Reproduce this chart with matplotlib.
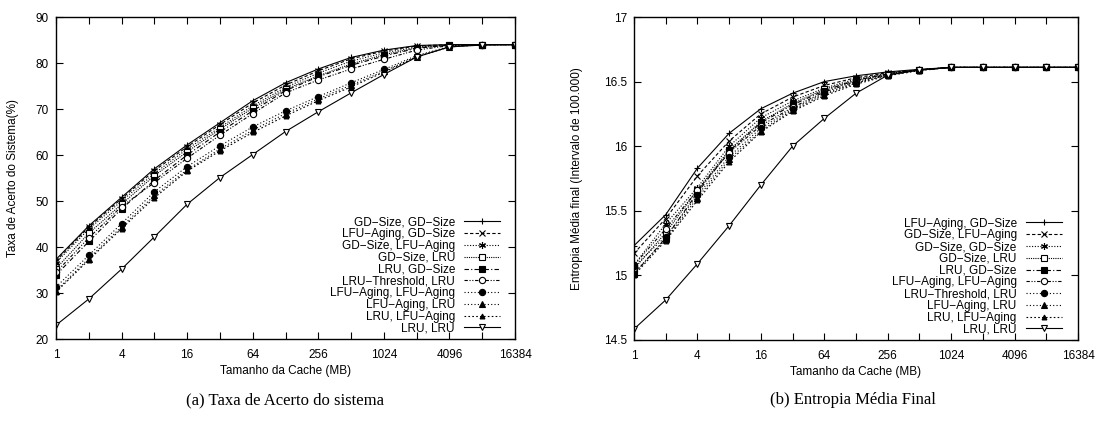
import matplotlib
matplotlib.use("Agg")
import matplotlib.pyplot as plt

# tamanho da cache (MB), potencias de 2
cache_mb = [1, 2, 4, 8, 16, 32, 64, 128, 256, 512, 1024, 2048, 4096, 8192, 16384]
tick_labels = ["1", "", "4", "", "16", "", "64", "", "256", "", "1024", "", "4096", "", "16384"]

# (a) taxa de acerto do sistema (%)
hit_labels = ["GD\u2212Size, GD\u2212Size", "LFU\u2212Aging, GD\u2212Size", "GD\u2212Size, LFU\u2212Aging",
              "GD\u2212Size, LRU", "LRU, GD\u2212Size", "LRU\u2212Threshold, LRU",
              "LFU\u2212Aging, LFU\u2212Aging", "LFU\u2212Aging, LRU", "LRU, LFU\u2212Aging", "LRU, LRU"]
hit_gds_gds = [37.3, 44.6, 50.8, 57.0, 62.2, 67.0, 71.8, 75.7, 78.7, 81.2, 82.8, 83.8, 84.0, 84.0, 84.0]
hit_lfu_gds = [37.0, 44.3, 50.5, 56.6, 61.8, 66.6, 71.3, 75.2, 78.3, 80.9, 82.6, 83.7, 84.0, 84.0, 84.0]
hit_gds_lfu = [36.6, 43.9, 50.0, 56.0, 61.3, 66.0, 70.7, 74.7, 77.8, 80.4, 82.2, 83.5, 83.9, 84.0, 84.0]
hit_gds_lru = [35.3, 43.0, 49.3, 55.5, 60.7, 65.6, 70.2, 74.3, 77.2, 79.8, 81.8, 83.3, 83.9, 84.0, 84.0]
hit_lru_gds = [33.9, 41.2, 48.3, 54.5, 60.0, 65.0, 69.6, 74.0, 77.0, 79.5, 81.5, 83.2, 83.9, 84.0, 84.0]
hit_thr_lru = [34.5, 42.0, 48.8, 54.0, 59.3, 64.3, 69.0, 73.5, 76.3, 78.7, 80.8, 82.8, 83.8, 84.0, 84.0]
hit_lfu_lfu = [31.3, 38.2, 45.1, 52.0, 57.5, 62.0, 66.1, 69.6, 72.7, 75.7, 78.6, 81.6, 83.6, 84.0, 84.0]
hit_lfu_lru = [30.5, 37.5, 44.4, 51.2, 56.8, 61.3, 65.4, 69.0, 72.2, 75.2, 78.2, 81.4, 83.5, 84.0, 84.0]
hit_lru_lfu = [30.2, 37.2, 44.0, 50.7, 56.5, 60.9, 64.9, 68.5, 71.8, 74.8, 78.0, 81.3, 83.5, 84.0, 84.0]
hit_lru_lru = [23.0, 28.7, 35.2, 42.2, 49.3, 55.1, 60.1, 65.1, 69.4, 73.5, 77.5, 81.3, 83.5, 83.9, 84.0]

# (b) entropia media final
ent_labels = ["LFU\u2212Aging, GD\u2212Size", "GD\u2212Size, LFU\u2212Aging", "GD\u2212Size, GD\u2212Size",
              "GD\u2212Size, LRU", "LRU, GD\u2212Size", "LFU\u2212Aging, LFU\u2212Aging",
              "LRU\u2212Threshold, LRU", "LFU\u2212Aging, LRU", "LRU, LFU\u2212Aging", "LRU, LRU"]
ent_lfu_gds = [15.23, 15.47, 15.83, 16.10, 16.29, 16.41, 16.50, 16.545, 16.575, 16.595, 16.61, 16.61, 16.61, 16.61, 16.61]
ent_gds_lfu = [15.17, 15.44, 15.77, 16.04, 16.25, 16.38, 16.47, 16.53, 16.57, 16.59, 16.61, 16.61, 16.61, 16.61, 16.61]
ent_gds_gds = [15.08, 15.40, 15.68, 16.00, 16.22, 16.35, 16.45, 16.52, 16.565, 16.59, 16.61, 16.61, 16.61, 16.61, 16.61]
ent_gds_lru = [15.05, 15.33, 15.66, 15.97, 16.19, 16.33, 16.44, 16.51, 16.56, 16.59, 16.61, 16.61, 16.61, 16.61, 16.61]
ent_lru_gds = [15.01, 15.29, 15.64, 15.96, 16.18, 16.32, 16.43, 16.51, 16.56, 16.59, 16.61, 16.61, 16.61, 16.61, 16.61]
ent_lfu_lfu = [15.08, 15.36, 15.66, 15.95, 16.16, 16.30, 16.42, 16.50, 16.555, 16.59, 16.61, 16.61, 16.61, 16.61, 16.61]
ent_thr_lru = [15.07, 15.30, 15.62, 15.92, 16.14, 16.29, 16.41, 16.49, 16.55, 16.59, 16.61, 16.61, 16.61, 16.61, 16.61]
ent_lfu_lru = [15.02, 15.28, 15.60, 15.90, 16.12, 16.28, 16.40, 16.49, 16.55, 16.59, 16.61, 16.61, 16.61, 16.61, 16.61]
ent_lru_lfu = [15.00, 15.27, 15.58, 15.88, 16.11, 16.27, 16.39, 16.48, 16.545, 16.585, 16.61, 16.61, 16.61, 16.61, 16.61]
ent_lru_lru = [14.585, 14.81, 15.09, 15.385, 15.70, 16.00, 16.215, 16.41, 16.55, 16.59, 16.61, 16.61, 16.61, 16.61, 16.61]

hit_series = [hit_gds_gds, hit_lfu_gds, hit_gds_lfu, hit_gds_lru, hit_lru_gds,
              hit_thr_lru, hit_lfu_lfu, hit_lfu_lru, hit_lru_lfu, hit_lru_lru]
ent_series = [ent_lfu_gds, ent_gds_lfu, ent_gds_gds, ent_gds_lru, ent_lru_gds,
              ent_lfu_lfu, ent_thr_lru, ent_lfu_lru, ent_lru_lfu, ent_lru_lru]

# estilos tipo gnuplot (linetype 1..10)
styles = [
    dict(ls="-", marker="+", ms=5, mfc="black"),
    dict(ls=(0, (3, 2)), marker="x", ms=4, mfc="black"),
    dict(ls=(0, (1, 1.5)), marker=(6, 2, 0), ms=5, mfc="black"),
    dict(ls=(0, (1, 1)), marker="s", ms=4, mfc="white"),
    dict(ls=(0, (4, 2, 1, 2)), marker="s", ms=4.5, mfc="black"),
    dict(ls=(0, (3, 1.5, 1, 1.5, 1, 1.5)), marker="o", ms=4.5, mfc="white"),
    dict(ls=(0, (1, 2)), marker="o", ms=4.5, mfc="black"),
    dict(ls=(0, (1, 2)), marker="^", ms=4.5, mfc="black"),
    dict(ls=(0, (1.5, 2)), marker="^", ms=3.5, mfc="black"),
    dict(ls="-", marker="v", ms=4.5, mfc="white"),
]

plt.rcParams["font.family"] = ["Liberation Sans", "DejaVu Sans"]

W, H = 1098, 426
fig = plt.figure(figsize=(W / 100, H / 100), dpi=100)


def make_panel(rect, series, labels, ylim, yticks, yticklabels, ylabel, ylabelpad, leg_anchor):
    ax = fig.add_axes([rect[0] / W, 1 - rect[3] / H, (rect[2] - rect[0]) / W, (rect[3] - rect[1]) / H])
    for vals, lab, st in zip(series, labels, styles):
        ax.plot(cache_mb, vals, color="black", lw=0.8, ls=st["ls"], marker=st["marker"],
                ms=st["ms"], mfc=st["mfc"], mec="black", mew=0.8, label=lab)
    ax.set_xscale("log", base=2)
    ax.set_xlim(1, 16384)
    ax.set_ylim(*ylim)
    ax.set_xticks(cache_mb)
    ax.set_xticklabels(tick_labels)
    ax.minorticks_off()
    ax.set_yticks(yticks)
    ax.set_yticklabels(yticklabels)
    ax.tick_params(direction="in", length=5, width=0.8, top=True, right=True,
                   labelsize=8.5, pad=5)
    ax.tick_params(axis="x", pad=7)
    for sp in ax.spines.values():
        sp.set_linewidth(1.0)
    ax.set_xlabel("Tamanho da Cache (MB)", fontsize=8.5, labelpad=3)
    ax.set_ylabel(ylabel, fontsize=8.5, labelpad=ylabelpad)
    ax.legend(loc="lower right", bbox_to_anchor=leg_anchor, markerfirst=False, frameon=False,
              fontsize=8.5, handlelength=3.0, handletextpad=0.8, labelspacing=-0.02,
              borderpad=0, borderaxespad=0)
    return ax


make_panel((56, 17, 515, 339), hit_series, hit_labels, (20, 90),
           [20, 30, 40, 50, 60, 70, 80, 90], ["20", "30", "40", "50", "60", "70", "80", "90"],
           "Taxa de Acerto do Sistema(%)", 12, (0.967, 0.014))
make_panel((634, 17, 1078, 340), ent_series, ent_labels, (14.5, 17),
           [14.5, 15, 15.5, 16, 16.5, 17], ["14.5", "15", "15.5", "16", "16.5", "17"],
           "Entropia M\u00e9dia final (Intervalo de 100.000)", 15, (0.963, 0.014))

fig.text(285 / W, 1 - 400 / H, "(a) Taxa de Acerto do sistema", ha="center", va="center",
         fontsize=12, family=["Liberation Serif", "DejaVu Serif"])
fig.text(853 / W, 1 - 400 / H, "(b) Entropia M\u00e9dia Final", ha="center", va="center",
         fontsize=12, family=["Liberation Serif", "DejaVu Serif"])

fig.savefig("out.png", dpi=100)
